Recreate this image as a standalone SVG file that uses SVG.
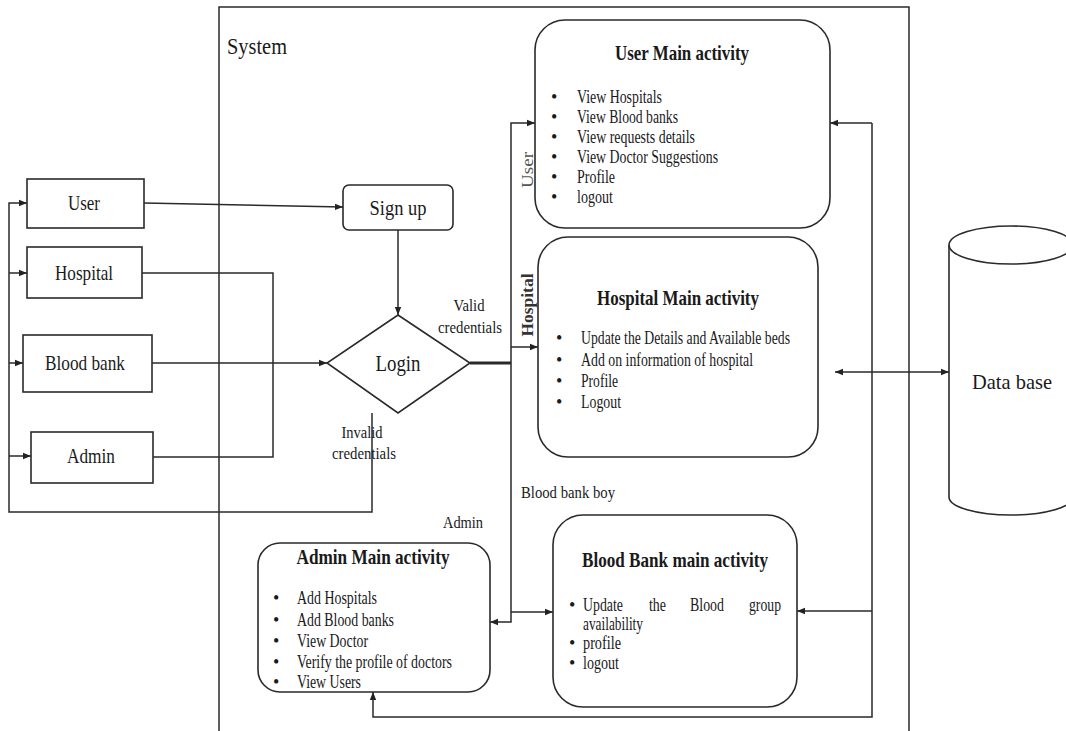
<svg xmlns="http://www.w3.org/2000/svg" width="1066" height="731" viewBox="0 0 1066 731">
<defs>
<marker id="arr" markerUnits="userSpaceOnUse" markerWidth="9" markerHeight="8" refX="8" refY="4" orient="auto-start-reverse"><path d="M0,0.8 L8,4 L0,7.2 z" fill="#222"/></marker>
<style>
.ln{fill:none;stroke:#2a2a2a;stroke-width:1.5}
.bx{fill:#fff;stroke:#2a2a2a;stroke-width:1.6}
text{font-family:"Liberation Serif","Times New Roman",serif;fill:#1a1a1a}
.lb{font-size:21px;text-anchor:middle}
.tt{font-size:22px;font-weight:bold;text-anchor:middle}
.it{font-size:18px}
.sm{font-size:17.5px}
</style>
</defs>
<rect width="1066" height="731" fill="#fff"/>
<g id="system-frame">
<path class="ln" d="M219,731 V7 H909 V731"/>
<text x="227" y="54" style="font-size:24px" textLength="60" lengthAdjust="spacingAndGlyphs">System</text>
</g>
<g id="connectors">
<path class="ln" d="M372,413 V512 H9 V203 H27" marker-end="url(#arr)"/>
<path class="ln" d="M9,273 H27" marker-end="url(#arr)"/>
<path class="ln" d="M9,363 H23" marker-end="url(#arr)"/>
<path class="ln" d="M9,456 H31" marker-end="url(#arr)"/>
<path class="ln" d="M144,203 L343,207" marker-end="url(#arr)"/>
<path class="ln" d="M142,273 H273 V457 H153"/>
<path class="ln" d="M152,363 H327" marker-end="url(#arr)"/>
<path class="ln" d="M398,230 V315" marker-end="url(#arr)"/>
<path class="ln" d="M470,363 H511" style="stroke-width:3"/>
<path class="ln" d="M511,363 V123 H535" marker-end="url(#arr)"/>
<path class="ln" d="M511,347 H538" marker-end="url(#arr)"/>
<path class="ln" d="M511,363 V622 H490" marker-end="url(#arr)"/>
<path class="ln" d="M511,612 H553" marker-end="url(#arr)"/>
<path class="ln" d="M872,123 H830" marker-end="url(#arr)"/>
<path class="ln" d="M872,123 V717 H373 V692" marker-end="url(#arr)"/>
<path class="ln" d="M872,611 H797" marker-end="url(#arr)"/>
<path class="ln" d="M835,372 H949" marker-start="url(#arr)" marker-end="url(#arr)"/>
<text class="sm" x="469" y="311" text-anchor="middle" textLength="31" lengthAdjust="spacingAndGlyphs">Valid</text>
<text class="sm" x="470" y="333" text-anchor="middle" textLength="64" lengthAdjust="spacingAndGlyphs">credentials</text>
<text class="sm" x="362" y="438" text-anchor="middle" textLength="41" lengthAdjust="spacingAndGlyphs">Invalid</text>
<text class="sm" x="364" y="459" text-anchor="middle" textLength="64" lengthAdjust="spacingAndGlyphs">credentials</text>
<text class="sm" x="443" y="528" textLength="40" lengthAdjust="spacingAndGlyphs">Admin</text>
<text class="sm" x="521" y="498" textLength="94" lengthAdjust="spacingAndGlyphs">Blood bank boy</text>
<text class="sm" transform="translate(533,170) rotate(-90)" text-anchor="middle" textLength="36" lengthAdjust="spacingAndGlyphs" style="fill:#555">User</text>
<text class="sm" transform="translate(533,305) rotate(-90)" text-anchor="middle" textLength="63" lengthAdjust="spacingAndGlyphs" style="font-weight:bold;fill:#333">Hospital</text>
</g>
<g id="user">
<rect class="bx" x="27" y="179" width="117" height="49"/>
<text class="lb" x="84" y="210" textLength="32" lengthAdjust="spacingAndGlyphs">User</text>
</g>
<g id="hospital">
<rect class="bx" x="27" y="247" width="115" height="51"/>
<text class="lb" x="84" y="280" textLength="58" lengthAdjust="spacingAndGlyphs">Hospital</text>
</g>
<g id="blood-bank">
<rect class="bx" x="23" y="335" width="129" height="57"/>
<text class="lb" x="85" y="370" textLength="80" lengthAdjust="spacingAndGlyphs">Blood bank</text>
</g>
<g id="admin">
<rect class="bx" x="31" y="432" width="122" height="51"/>
<text class="lb" x="91" y="463" textLength="48" lengthAdjust="spacingAndGlyphs">Admin</text>
</g>
<g id="sign-up">
<rect class="bx" x="343" y="185" width="110" height="45" rx="6"/>
<text class="lb" x="398" y="215" textLength="57" lengthAdjust="spacingAndGlyphs">Sign up</text>
</g>
<g id="login">
<polygon class="bx" points="398,315 470,363 398,413 327,363"/>
<text class="lb" x="398" y="371" style="font-size:23px" textLength="45" lengthAdjust="spacingAndGlyphs">Login</text>
</g>
<g id="user-main">
<rect class="bx" x="535" y="20" width="295" height="208" rx="30"/>
<text class="tt" x="682" y="60" textLength="134" lengthAdjust="spacingAndGlyphs">User Main activity</text>
<g class="it">
<text x="551" y="103">•</text><text x="577" y="103" textLength="85" lengthAdjust="spacingAndGlyphs">View Hospitals</text>
<text x="551" y="123">•</text><text x="577" y="123" textLength="101" lengthAdjust="spacingAndGlyphs">View Blood banks</text>
<text x="551" y="143">•</text><text x="577" y="143" textLength="118" lengthAdjust="spacingAndGlyphs">View requests details</text>
<text x="551" y="163">•</text><text x="577" y="163" textLength="141" lengthAdjust="spacingAndGlyphs">View Doctor Suggestions</text>
<text x="551" y="183">•</text><text x="577" y="183" textLength="38" lengthAdjust="spacingAndGlyphs">Profile</text>
<text x="551" y="203">•</text><text x="577" y="203" textLength="36" lengthAdjust="spacingAndGlyphs">logout</text>
</g>
</g>
<g id="hospital-main">
<rect class="bx" x="538" y="237" width="280" height="220" rx="30"/>
<text class="tt" x="678" y="305" textLength="162" lengthAdjust="spacingAndGlyphs">Hospital Main activity</text>
<g class="it">
<text x="556" y="344">•</text><text x="581" y="344" textLength="209" lengthAdjust="spacingAndGlyphs">Update the Details and Available beds</text>
<text x="556" y="366">•</text><text x="581" y="366" textLength="172" lengthAdjust="spacingAndGlyphs">Add on information of hospital</text>
<text x="556" y="387">•</text><text x="581" y="387" textLength="37" lengthAdjust="spacingAndGlyphs">Profile</text>
<text x="556" y="408">•</text><text x="581" y="408" textLength="40" lengthAdjust="spacingAndGlyphs">Logout</text>
</g>
</g>
<g id="admin-main">
<rect class="bx" x="258" y="543" width="232" height="149" rx="22"/>
<text class="tt" x="373" y="564" textLength="153" lengthAdjust="spacingAndGlyphs">Admin Main activity</text>
<g class="it">
<text x="273" y="604">•</text><text x="297" y="604" textLength="80" lengthAdjust="spacingAndGlyphs">Add Hospitals</text>
<text x="273" y="626">•</text><text x="297" y="626" textLength="97" lengthAdjust="spacingAndGlyphs">Add Blood banks</text>
<text x="273" y="647">•</text><text x="297" y="647" textLength="71" lengthAdjust="spacingAndGlyphs">View Doctor</text>
<text x="273" y="668">•</text><text x="297" y="668" textLength="155" lengthAdjust="spacingAndGlyphs">Verify the profile of doctors</text>
<text x="273" y="688">•</text><text x="297" y="688" textLength="64" lengthAdjust="spacingAndGlyphs">View Users</text>
</g>
</g>
<g id="bloodbank-main">
<rect class="bx" x="553" y="515" width="244" height="192" rx="30"/>
<text class="tt" x="675" y="567" textLength="186" lengthAdjust="spacingAndGlyphs">Blood Bank main activity</text>
<g class="it">
<text x="569" y="611">•</text>
<text x="583" y="611" textLength="40" lengthAdjust="spacingAndGlyphs">Update</text>
<text x="649" y="611" textLength="17" lengthAdjust="spacingAndGlyphs">the</text>
<text x="690" y="611" textLength="34" lengthAdjust="spacingAndGlyphs">Blood</text>
<text x="749" y="611" textLength="32" lengthAdjust="spacingAndGlyphs">group</text>
<text x="583" y="630" textLength="60" lengthAdjust="spacingAndGlyphs">availability</text>
<text x="569" y="649">•</text><text x="583" y="649" textLength="38" lengthAdjust="spacingAndGlyphs">profile</text>
<text x="569" y="669">•</text><text x="583" y="669" textLength="36" lengthAdjust="spacingAndGlyphs">logout</text>
</g>
</g>
<g id="database">
<path class="bx" d="M949,245 V497 A62,18 0 0 0 1073,497 V245"/>
<ellipse class="bx" cx="1011" cy="245" rx="62" ry="19"/>
<text class="lb" x="1012" y="389" style="font-size:22px" textLength="80" lengthAdjust="spacingAndGlyphs">Data base</text>
</g>
</svg>
